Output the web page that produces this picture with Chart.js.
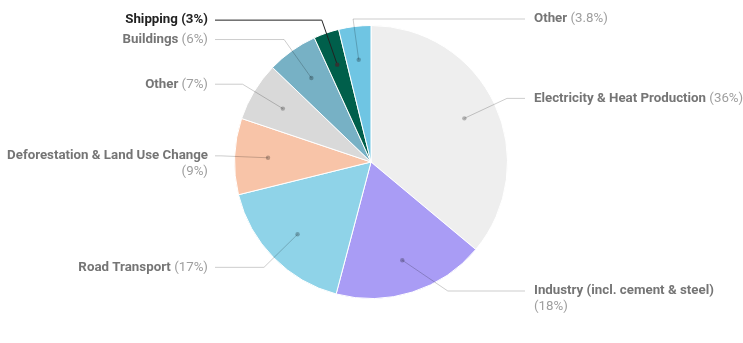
<!DOCTYPE html>
<html>
<head>
<meta charset="utf-8">
<script src="https://cdn.jsdelivr.net/npm/chart.js@4.4.0/dist/chart.umd.min.js"></script>
<style>
  html, body { margin: 0; padding: 0; background: #fff; }
  #box { width: 743px; height: 343px; }
</style>
</head>
<body>
<div id="box"><canvas id="emissionsChart"></canvas></div>
<script>
var sectors = ["Electricity & Heat Production", "Industry (incl. cement & steel)", "Road Transport",
    "Deforestation & Land Use Change", "Other", "Buildings", "Shipping", "Other"];
var shares = [36, 18, 17, 9, 7, 6, 3, 3.8];
var sliceColors = ["#eeeeee", "#a99cf5", "#8fd3e8", "#f8c4a8", "#d9d9d9", "#77b1c5", "#005f4b", "#6fc5e3"];
var highlighted = 6; // Shipping is the selected slice

var FONT = "Roboto, 'Noto Sans', sans-serif";

// google charts style labels with leader lines
var sideLabels = {
    id: 'sideLabels',
    afterDraw: function (chart) {
        var ctx = chart.ctx;
        var meta = chart.getDatasetMeta(0);
        ctx.save();
        meta.data.forEach(function (arc, i) {
            var p = arc.getProps(['x', 'y', 'startAngle', 'endAngle', 'outerRadius'], true);
            var r = p.outerRadius;
            var mid = (p.startAngle + p.endAngle) / 2;
            var deg = ((mid + Math.PI / 2) * 180 / Math.PI + 360) % 360;
            var right = deg < 180 || deg > 348;  // small slice near the top goes to the right
            var dot = {x: p.x + Math.cos(mid) * r * 0.755, y: p.y + Math.sin(mid) * r * 0.755};
            var elbow = {x: p.x + Math.cos(mid) * r * 1.1, y: p.y + Math.sin(mid) * r * 1.1};
            if (elbow.y < 19) {
                elbow.y = 19;
            }
            if (elbow.y > 291) {
                elbow.y = 291;
                var dy = elbow.y - p.y;
                var dx = Math.sqrt(Math.max(0, r * r * 1.21 - dy * dy));
                elbow.x = p.x + (right ? dx : -dx);
            }
            var lineEnd = right ? p.x + 154 : p.x - 156;
            var textX = right ? p.x + 163 : p.x - 163;
            var hi = (i == highlighted);

            ctx.strokeStyle = hi ? "#222222" : "rgba(0,0,0,0.2)";
            ctx.lineWidth = 1;
            ctx.beginPath();
            ctx.moveTo(dot.x, dot.y);
            ctx.lineTo(elbow.x, elbow.y);
            ctx.lineTo(lineEnd, elbow.y);
            ctx.stroke();

            ctx.fillStyle = hi ? "#333333" : "rgba(0,0,0,0.25)";
            ctx.beginPath();
            ctx.arc(dot.x, dot.y, 2.2, 0, Math.PI * 2);
            ctx.fill();

            var name = sectors[i];
            var pct = "(" + shares[i] + "%)";
            var boldFont = "bold 13.3px " + FONT;
            var normFont = (hi ? "bold " : "") + "13.3px " + FONT;
            ctx.font = boldFont;
            var wName = ctx.measureText(name + " ").width;
            ctx.font = normFont;
            var wPct = ctx.measureText(pct).width;
            var maxW = right ? chart.width - textX + 6 : textX - 6;
            var nameColor = hi ? "#222222" : "#757575";
            var pctColor = hi ? "#222222" : "#9e9e9e";
            ctx.textBaseline = "middle";
            ctx.textAlign = "left";

            if (wName + wPct <= maxW) {
                var x0 = right ? textX : textX - wName - wPct;
                ctx.font = boldFont;
                ctx.fillStyle = nameColor;
                ctx.fillText(name, x0, elbow.y);
                ctx.font = normFont;
                ctx.fillStyle = pctColor;
                ctx.fillText(pct, x0 + wName, elbow.y);
            }
            else {
                ctx.font = boldFont;
                var w1 = ctx.measureText(name).width;
                ctx.fillStyle = nameColor;
                ctx.fillText(name, right ? textX : textX - w1, elbow.y);
                ctx.font = normFont;
                ctx.fillStyle = pctColor;
                ctx.fillText(pct, right ? textX : textX - wPct, elbow.y + 16);
            }
        });
        ctx.restore();
    }
};

var chartElement = document.getElementById("emissionsChart");
var emissionsChart = new Chart(chartElement, {
    type: 'pie',
    data: {
        labels: sectors,
        datasets: [{
            data: shares,
            backgroundColor: sliceColors,
            borderColor: "#ffffff",
            borderWidth: 1
        }]
    },
    options: {
        responsive: true,
        maintainAspectRatio: false,
        animation: false,
        layout: {
            padding: {left: 234, right: 235, top: 25, bottom: 44}
        },
        plugins: {
            legend: {display: false},
            tooltip: {enabled: false}
        }
    },
    plugins: [sideLabels]
});
</script>
</body>
</html>
